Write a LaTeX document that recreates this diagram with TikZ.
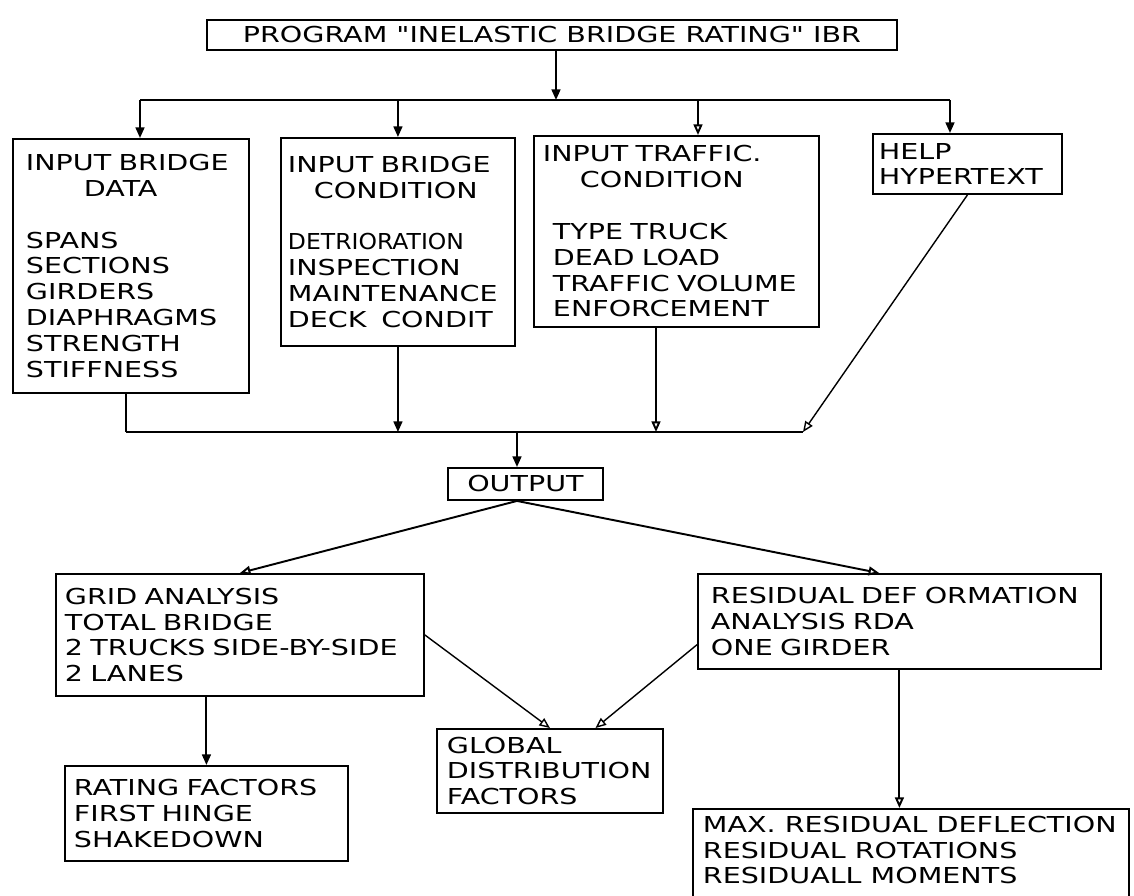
\documentclass[tikz,border=0pt]{standalone}
\usepackage{fontspec}
\usetikzlibrary{arrows.meta,calc}
\newfontfamily\plotfont[FakeStretch=1.3]{DejaVu Sans}
\newfontfamily\plotnarrow[FakeStretch=1.07]{DejaVu Sans}

\begin{document}
\begin{tikzpicture}[x=0.02cm,y=-0.02cm,
    font=\plotfont\fontsize{12.5pt}{14.7pt}\selectfont,
    box/.style={draw,line width=1.1pt,anchor=north west,align=left,inner ysep=0.08cm},
    fat/.style={-{Triangle[length=6pt,width=5pt]},line width=1.1pt},
    hol/.style={-{Triangle[open,length=6pt,width=5pt]},line width=1.1pt},
    thin/.style={-{Triangle[open,length=6pt,width=5pt]},line width=0.8pt}]

  \useasboundingbox (0,0) rectangle (1134,896);

  \node (prog)  [box,align=center,minimum width=13.8cm,minimum height=0.6cm] at (206,19)
        {PROGRAM "INELASTIC BRIDGE RATING" IBR};

  \node (bdata) [box,text width=4.2cm,inner xsep=0.26cm,minimum height=5.08cm] at (12,138)
        {INPUT BRIDGE\\\hspace*{1.16cm}DATA\\\strut\\SPANS\\SECTIONS\\GIRDERS\\DIAPHRAGMS\\STRENGTH\\STIFFNESS};
  \node (bcond) [box,text width=4.4cm,inner xsep=0.14cm,minimum height=4.16cm] at (280,137)
        {INPUT BRIDGE\\\hspace*{0.52cm}CONDITION\\\strut\\{\plotnarrow DETRIORATION}\\INSPECTION\\MAINTENANCE\\DECK~~CONDIT};
  \node (traf)  [box,text width=5.34cm,inner xsep=0.18cm,minimum height=3.82cm] at (533,135)
        {INPUT TRAFFIC.\\\hspace*{0.74cm}CONDITION\\\strut\\\hspace*{0.2cm}TYPE TRUCK\\\hspace*{0.2cm}DEAD LOAD\\\hspace*{0.2cm}TRAFFIC VOLUME\\\hspace*{0.2cm}ENFORCEMENT};
  \node (help)  [box,text width=3.54cm,inner xsep=0.12cm,minimum height=1.2cm] at (872,133)
        {HELP\\HYPERTEXT};

  \node (out)   [box,align=center,minimum width=3.1cm,minimum height=0.64cm] at (447,467) {OUTPUT};

  \node (grid)  [box,text width=7.0cm,inner xsep=0.18cm,minimum height=2.44cm] at (55,573)
        {GRID ANALYSIS\\TOTAL BRIDGE\\2 TRUCKS SIDE-BY-SIDE\\2 LANES};
  \node (rda)   [box,text width=7.54cm,inner xsep=0.26cm,minimum height=1.9cm] at (697,573)
        {RESIDUAL DEF ORMATION\\ANALYSIS RDA\\ONE GIRDER};
  \node (gdf)   [box,text width=4.12cm,inner xsep=0.2cm,minimum height=1.68cm] at (436,728)
        {GLOBAL\\DISTRIBUTION\\FACTORS};
  \node (rate)  [box,text width=5.3cm,inner xsep=0.18cm,minimum height=1.9cm] at (64,765)
        {RATING FACTORS\\FIRST HINGE\\SHAKEDOWN};
  \node (resid) [box,inner xsep=0.2cm,inner ysep=0.14cm] at (692,808)
        {\parbox[t][2.3cm][t]{8.32cm}{MAX. RESIDUAL DEFLECTION\\RESIDUAL ROTATIONS\\RESIDUALL MOMENTS}};

  %% -- junctions
  \coordinate (t0) at (556,100);
  \coordinate (bl) at (140,100);
  \coordinate (br) at (950,100);
  \coordinate (d3) at (698,100);
  \coordinate (cl) at (126,432);
  \coordinate (cr) at (803,432);
  \coordinate (u3) at (656,432);
  \coordinate (u0) at (517,432);

  %% -- edges
  %% program to inputs
  \draw[fat] (t0 |- prog.south) -- (t0);
  \draw[line width=1.1pt] (bl) -- (br);
  \draw[fat] (bl) -- (bl |- bdata.north);
  \draw[fat] (bcond.north |- bl) -- (bcond.north);
  \draw[hol] (d3) -- (d3 |- traf.north);
  \draw[fat] (br) -- (br |- help.north);
  %% inputs to output
  \draw[line width=1.1pt] (cl |- bdata.south) -- (cl);
  \draw[fat] (bcond.south) -- (bcond.south |- cl);
  \draw[hol] (u3 |- traf.south) -- (u3);
  \draw[thin] (help.south) -- (cr);
  \draw[line width=1.1pt] (cl) -- (cr);
  \draw[fat] (u0) -- (u0 |- out.north);
  %% output
  \draw[hol] (u0 |- out.south) -- (grid.north);
  \draw[hol] (u0 |- out.south) -- ($(rda.north west)!0.45!(rda.north east)$);
  \draw[thin] (grid.east) -- (gdf.north);
  \draw[thin] ($(rda.north west)!0.74!(rda.south west)$) -- ($(gdf.north west)!0.7!(gdf.north east)$);
  \draw[fat] (rate.north |- grid.south) -- (rate.north);
  \draw[hol] (rda.south) -- (rda.south |- resid.north);

\end{tikzpicture}
\end{document}
